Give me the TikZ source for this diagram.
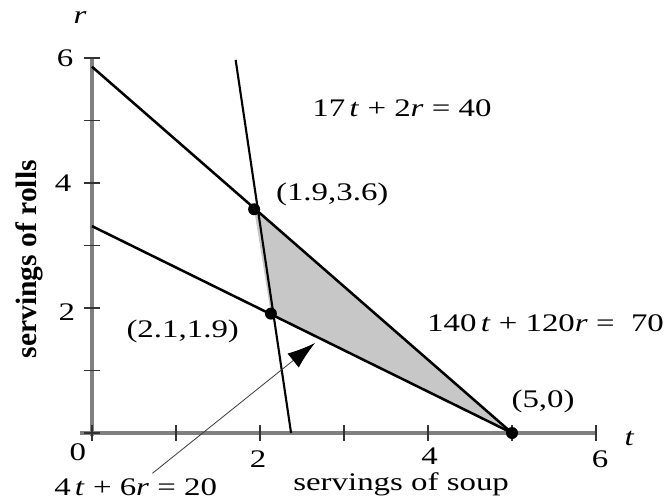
\documentclass[tikz,border=0pt]{standalone}
\usepackage{fontspec}
\setmainfont{Liberation Serif}[FakeStretch=1.3]
\newfontfamily\rollsfont{Liberation Serif}
\usetikzlibrary{calc,positioning,arrows.meta}

\begin{document}
\begin{tikzpicture}[x=2.1cm, y=1.5625cm,
  font=\fontsize{18}{20}\selectfont,
  axis/.style={black!50, line width=3pt},
  tick/.style={black!80, line width=1.2pt},
  bound/.style={black, line width=1.8pt},
  corner/.style={circle, fill=black, inner sep=0pt, minimum size=0.3cm},
  pointer/.style={black!75, line width=0.6pt, -{Latex[length=7mm, width=4.5mm, color=black]}}]

\useasboundingbox (-1.0952,-1.072) rectangle (6.881,6.928);

% axes and ticks
\draw[axis] (-0.14,0) -- (6,0);
\draw[axis] (0,-0.05) -- (0,6);
\foreach \i in {1,...,6} {
  \draw[tick] (\i,-0.13) -- (\i,0.13);
  \draw[tick] (-0.1,\i) -- (0.1,\i);
}
\draw[tick] (-0.1,0) -- (0.1,0);
\draw[tick] (0,-0.13) -- (0,0.13);

\node (x0) at (-0.167,-0.3) {0};
\node (x2) at (1.976,-0.42) {2};
\node (x4) at (4.02,-0.37) {4};
\node (x6) at (6.05,-0.42) {6};
\node (y2) at (-0.3,1.94) {2};
\node (y4) at (-0.345,4) {4};
\node (y6) at (-0.32,6) {6};
\node (tlab) at (6.4,-0.08) {\textit{t}};
\node (rlab) at (-0.143,6.64) {\textit{r}};

% constraint lines
\coordinate (a0) at (0,5.86);
\coordinate (b0) at (0,3.31);
\coordinate (c0) at (1.71,5.97);
\coordinate (c1) at (2.37,0);
\coordinate (q1) at (1.93,3.58);
\coordinate (q2) at (2.13,1.91);
\coordinate (q3) at (5,0);

\fill[black!22] (q1) -- (q2) -- (q3) -- cycle;
\draw[bound] (a0) -- (q3);
\draw[bound] (b0) -- (q3);
\draw[bound, line width=1.5pt] (c0) -- (c1);

\node[corner] (p1) at (q1) {};
\node[corner] (p2) at (q2) {};
\node[corner] (p3) at (q3) {};

% labels
\node (eqC) at (3.69,5.2) {17\,\textit{t} + 2\textit{r} = 40};
\node (lp1) at (2.86,3.81) {(1.9,3.6)};
\node (lp2) at (1.08,1.62) {(2.1,1.9)};
\node (eqA) at (5.40,1.76) {140\,\textit{t} + 120\textit{r} = \ 70};
\node (lp3) at (5.37,0.5) {(5,0)};
\node (eqB) at (0.52,-0.86) {4\,\textit{t} + 6\textit{r} = 20};
\node (xlab) at (3.68,-0.82) {servings of soup};
\node[rotate=90, font=\fontsize{21}{22}\rollsfont\bfseries] (ylab) at (-0.74,2.78) {servings of rolls};

\coordinate (tip) at (2.655,1.44);
\draw[pointer] ($(eqB.north)+(0.2,0)$) -- (tip);
\end{tikzpicture}
\end{document}
